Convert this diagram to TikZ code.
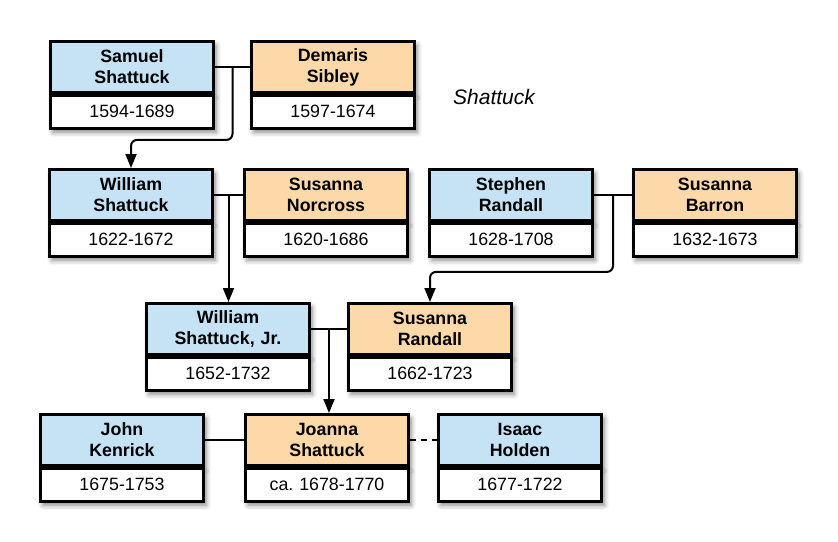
\documentclass[tikz,border=0pt]{standalone}
\usepackage{fontspec}
\setmainfont{Liberation Sans}
\usepackage{xcolor}
\usepackage{tikz}
\usetikzlibrary{arrows.meta,positioning,shadows.blur}
\definecolor{maleblue}{HTML}{C6E3F6}
\definecolor{femaleorange}{HTML}{FDD8A8}
\newcommand{\namefont}{\fontsize{17.8}{21}\selectfont\bfseries}
\newcommand{\datefont}{\fontsize{17.8}{21}\selectfont}

\tikzset{
  boxshadow/.style={blur shadow={shadow xshift=2.5pt,shadow yshift=-4pt,shadow blur radius=5pt,shadow opacity=50}},
  person/.style={draw,line width=2.8pt,minimum width=163pt,minimum height=51pt,
    text width=150pt,align=center,inner sep=2pt,font=\namefont,anchor=north,boxshadow},
  male/.style={person,fill=maleblue},
  female/.style={person,fill=femaleorange},
  dates/.style={draw,line width=2.8pt,fill=white,minimum width=163pt,minimum height=33pt,
    text width=150pt,align=center,inner sep=2pt,font=\datefont,below=0pt of #1,boxshadow},
  link/.style={line width=2pt},
  arr/.style={link,-{Triangle[length=14pt,width=11pt]},rounded corners=6pt},
}

\begin{document}
\begin{tikzpicture}[x=1pt,y=-1pt]
    \useasboundingbox (0,0) rectangle (838,541);

    % first generation
    \node[male] (sam) at (132,40) {Samuel\\Shattuck};
    \node[dates=sam] (samd) {1594-1689};
    \node[female] (dem) at (333,40) {Demaris\\Sibley};
    \node[dates=dem] (demd) {1597-1674};
    \node[font=\fontsize{21}{25}\selectfont\itshape] (title) at (494,97) {Shattuck};

    % second generation
    \node[male] (wil) at (131,168) {William\\Shattuck};
    \node[dates=wil] (wild) {1622-1672};
    \node[female] (nor) at (326,168) {Susanna\\Norcross};
    \node[dates=nor] (nord) {1620-1686};
    \node[male] (ste) at (511,168) {Stephen\\Randall};
    \node[dates=ste] (sted) {1628-1708};
    \node[female] (bar) at (715,168) {Susanna\\Barron};
    \node[dates=bar] (bard) {1632-1673};

    % third generation
    \node[male] (wjr) at (228,302) {William\\Shattuck, Jr.};
    \node[dates=wjr] (wjrd) {1652-1732};
    \node[female] (sra) at (430,302) {Susanna\\Randall};
    \node[dates=sra] (srad) {1662-1723};

    % fourth generation
    \node[male] (joh) at (122,413) {John\\Kenrick};
    \node[dates=joh] (johd) {1675-1753};
    \node[female] (joa) at (327,413) {Joanna\\Shattuck};
    \node[dates=joa] (joad) {ca.\ 1678-1770};
    \node[male] (isa) at (520,413) {Isaac\\Holden};
    \node[dates=isa] (isad) {1677-1722};

    % couples and children
    \draw[link] (sam.east) -- (dem.west);
    \coordinate (m1) at ($(sam.east)!0.5!(dem.west)$);
    \draw[arr] (m1) -- ++(0,73) -| (wil.north);

    \draw[link] (wil.east) -- (nor.west);
    \coordinate (m2) at ($(wil.east)!0.5!(nor.west)$);
    \draw[arr] (m2) -- (m2 |- wjr.north);

    \draw[link] (ste.east) -- (bar.west);
    \coordinate (m3) at ($(ste.east)!0.5!(bar.west)$);
    \draw[arr] (m3) -- ++(0,77) -| (sra.north);

    \draw[link] (wjr.east) -- (sra.west);
    \coordinate (m4) at ($(wjr.east)!0.5!(sra.west)$);
    \draw[arr] (m4) -- (m4 |- joa.north);

    \draw[link] (joh.east) -- (joa.west);
    \draw[link,dash pattern=on 6pt off 5pt] (joa.east) -- (isa.west);
\end{tikzpicture}
\end{document}
